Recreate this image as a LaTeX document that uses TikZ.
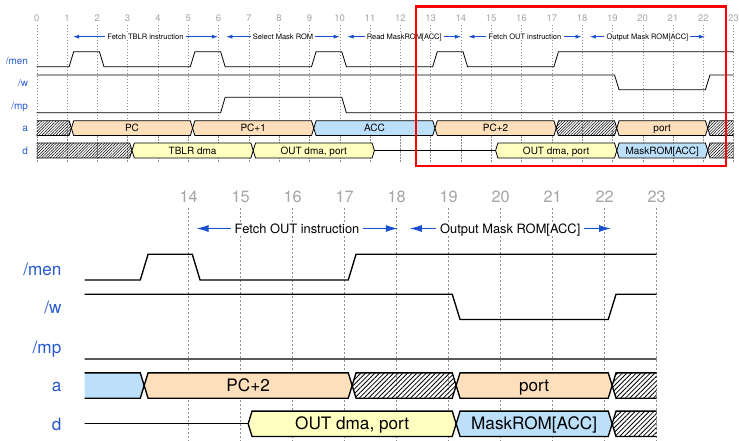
\documentclass[tikz,border=0pt]{standalone}
\usepackage{fontspec}
\setmainfont{TeX Gyre Heros}
\usetikzlibrary{patterns.meta,arrows.meta}

\definecolor{signame}{RGB}{38,88,208}
\definecolor{tickgray}{RGB}{165,165,165}
\definecolor{gridgray}{RGB}{140,140,140}
\definecolor{annblue}{RGB}{25,80,205}
\definecolor{buspeach}{RGB}{253,223,188}
\definecolor{busblue}{RGB}{188,224,250}
\definecolor{busyellow}{RGB}{255,255,192}

% sizes that do not follow the scope scaling; set again for each copy
\newcommand\siglw{0.8pt}
\newcommand\gridlw{0.4pt}
\newcommand\dashlen{1.5pt}
\newcommand\hatchd{2pt}
\newcommand\hatchlw{0.5pt}
\newcommand\annlw{0.6pt}
\newcommand\arrl{6pt}
\newcommand\arrw{4pt}
\newcommand\bh{7.4}
\newcommand\tstart{0}
\newcommand\pfx{o}

\tikzset{
  sigline/.style={draw=black, line width=\siglw, line join=miter},
  gridline/.style={draw=gridgray, line width=\gridlw, dash pattern=on \dashlen off \dashlen},
  hatched/.style={pattern={Lines[angle=45,distance=\hatchd,line width=\hatchlw]}, pattern color=black},
  peach/.style={fill=buspeach},
  lblue/.style={fill=busblue},
  yell/.style={fill=busyellow},
  sigtext/.style={text=signame, font=\fontsize{10}{12}\selectfont, anchor=east,
    inner sep=0pt, text height=7.2pt, text depth=0pt},
  bustext/.style={font=\fontsize{10}{12}\selectfont, inner sep=0pt,
    text height=7.2pt, text depth=0pt},
  ticktext/.style={text=tickgray, font=\fontsize{9.5}{11}\selectfont, inner sep=0pt,
    text height=6.8pt, text depth=0pt},
  anntext/.style={font=\fontsize{7.5}{9}\selectfont, fill=white, inner xsep=2pt,
    inner ysep=1pt, text height=5.4pt, text depth=0pt},
  annline/.style={draw=annblue, line width=\annlw, -{Latex[length=\arrl,width=\arrw]}},
}

% one bus value: tapered at both ends, x in cycles
\newcommand\busseg[6]{% t1, t2, y, fill style, name, text
  \pgfmathtruncatemacro\segvis{(#2+0.145 > \tstart) ? 1 : 0}%
  \ifnum\segvis=1
    \path[sigline,#4] ({#1+0.145},#3) -- ({#1+0.22},{#3+\bh}) -- ({#2+0.07},{#3+\bh})
      -- ({#2+0.145},#3) -- ({#2+0.07},{#3-\bh}) -- ({#1+0.22},{#3-\bh}) -- cycle;
    \pgfmathtruncatemacro\txtvis{((#1+#2)/2 > \tstart) ? 1 : 0}%
    \ifnum\txtvis=1
      \node[bustext] (\pfx-#5) at ({(#1+#2)/2+0.145},#3) {#6};
    \fi
  \fi}

% phase annotation with arrows to both sides
\newcommand\annot[4]{% name, t1, t2, text
  \node[anntext] (#1) at ({(#2+#3)/2},30) {#4};
  \coordinate (#1-l) at (#2,30);
  \coordinate (#1-r) at (#3,30);
  \draw[annline] (#1.west) -- (#1-l);
  \draw[annline] (#1.east) -- (#1-r);}

% the five signal rows, clipped to the visible cycles
\newcommand\timingrows[2]{% first visible cycle, x of the row names
  \begin{scope}
    \clip (#1,60) rectangle (23,-100);
    % /men
    \draw[sigline] (-1,0) -- (1.07,0) -- (1.22,15) -- (2.07,15) -- (2.22,0)
      -- (5.07,0) -- (5.22,15) -- (6.07,15) -- (6.22,0)
      -- (9.07,0) -- (9.22,15) -- (10.07,15) -- (10.22,0)
      -- (13.07,0) -- (13.22,15) -- (14.07,15) -- (14.22,0)
      -- (17.07,0) -- (17.22,15) -- (24,15);
    % /w
    \draw[sigline] (-1,-8.3) -- (19.07,-8.3) -- (19.22,-23) -- (22.07,-23)
      -- (22.22,-8.3) -- (24,-8.3);
    % /mp
    \draw[sigline] (-1,-46) -- (6.07,-46) -- (6.22,-30.6) -- (10.07,-30.6)
      -- (10.22,-46) -- (24,-46);
    % address bus
    \busseg{-1}{1}{-61.5}{hatched}{ax0}{}
    \busseg{1}{5}{-61.5}{peach}{pc}{PC}
    \busseg{5}{9}{-61.5}{peach}{pc1}{PC+1}
    \busseg{9}{13}{-61.5}{lblue}{acc}{ACC}
    \busseg{13}{17}{-61.5}{peach}{pc2}{PC+2}
    \busseg{17}{19}{-61.5}{hatched}{ax1}{}
    \busseg{19}{22}{-61.5}{peach}{port}{port}
    \busseg{22}{24}{-61.5}{hatched}{ax2}{}
    % data bus
    \busseg{-1}{3}{-83.8}{hatched}{dx0}{}
    \busseg{3}{7}{-83.8}{yell}{tblr}{TBLR dma}
    \busseg{7}{11}{-83.8}{yell}{out1}{OUT dma, port}
    \draw[sigline] (11.145,-83.8) -- (15.145,-83.8);
    \busseg{15}{19}{-83.8}{yell}{out2}{OUT dma, port}
    \busseg{19}{22}{-83.8}{lblue}{mrom}{MaskROM[ACC]}
    \busseg{22}{24}{-83.8}{hatched}{dx1}{}
  \end{scope}
  \node[sigtext] (\pfx-men) at (#2,6) {/men};
  \node[sigtext] (\pfx-w) at (#2,-16) {/w};
  \node[sigtext] (\pfx-mp) at (#2,-39) {/mp};
  \node[sigtext] (\pfx-a) at (#2,-61.5) {a};
  \node[sigtext] (\pfx-d) at (#2,-84) {d};}

\begin{document}
\begin{tikzpicture}
\useasboundingbox (0pt,0pt) rectangle (739pt,440pt);

% overview, cycles 0 to 23
\begin{scope}[shift={(36.7pt,373.3pt)}, x=30.3pt, y=1pt, transform shape]
  \renewcommand\pfx{o}\renewcommand\tstart{0}
  \foreach \t in {0,...,23} {
    \draw[gridline] (\t,41.7) -- (\t,-95.3);
    \node[ticktext] (o-t\t) at (\t,48.7) {\t};
  }
  \annot{o-ftblr}{1.2}{5.98}{Fetch TBLR instruction}
  \annot{o-smrom}{6.26}{10}{Select Mask ROM}
  \annot{o-rmrom}{10.26}{14}{Read MaskROM[ACC]}
  \annot{o-fout}{14.25}{17.98}{Fetch OUT instruction}
  \annot{o-omrom}{18.26}{22.05}{Output Mask ROM[ACC]}
  \timingrows{0}{-0.28}
\end{scope}

% close-up, cycles 12 to 23
\begin{scope}[shift={(-539.3pt,160pt)}, scale=1.716, x=30.3pt, y=1pt, transform shape]
  \renewcommand\pfx{z}\renewcommand\tstart{12}
  \renewcommand\siglw{1.35pt}\renewcommand\gridlw{0.6pt}\renewcommand\dashlen{2pt}
  \renewcommand\hatchd{3.3pt}\renewcommand\hatchlw{0.8pt}
  \renewcommand\annlw{1pt}\renewcommand\arrl{12pt}\renewcommand\arrw{7pt}
  \foreach \t in {14,...,23} {
    \draw[gridline] (\t,41.7) -- (\t,-95.3);
    \node[ticktext] (z-t\t) at (\t,48.7) {\t};
  }
  \annot{z-fout}{14.15}{18.02}{Fetch OUT instruction}
  \annot{z-omrom}{18.25}{22.12}{Output Mask ROM[ACC]}
  \timingrows{12}{11.56}
\end{scope}

% frame round the part shown enlarged
\draw[red, line width=2.2pt] (415.7pt,433.5pt) rectangle (725.7pt,274.3pt);
\end{tikzpicture}
\end{document}
